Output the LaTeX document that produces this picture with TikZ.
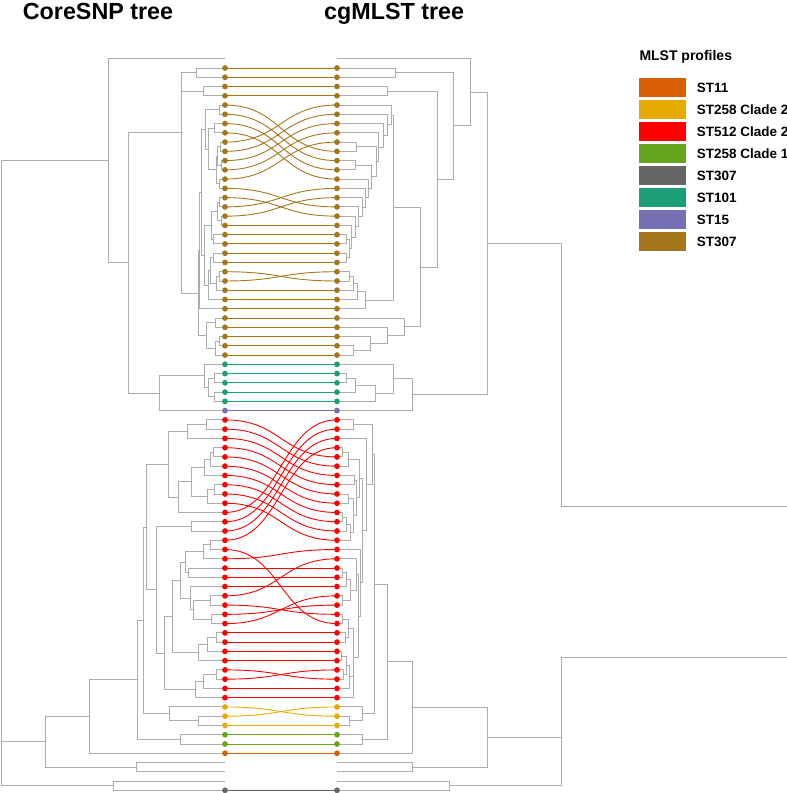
\documentclass[tikz,border=0pt]{standalone}
\usepackage{fontspec}
\setmainfont{Liberation Sans}
\definecolor{brn}{HTML}{A6761D}
\definecolor{tea}{HTML}{1B9E77}
\definecolor{pur}{HTML}{7570B3}
\definecolor{rd}{HTML}{FF0000}
\definecolor{yel}{HTML}{E6AB02}
\definecolor{grn}{HTML}{66A61E}
\definecolor{org}{HTML}{D95F02}
\definecolor{gry}{HTML}{666666}
\definecolor{tl}{HTML}{ADADAD}
\pgfdeclarelayer{bg}
\pgfsetlayers{bg,main}
\tikzset{
  treeln/.style={draw=tl, line width=0.9pt},
  conn/.style={line width=0.9pt},
  dot/.style={circle, inner sep=0pt, minimum size=5.8pt, draw=none},
  swatch/.style={rectangle, inner sep=0pt, minimum width=46.7pt, minimum height=19pt, draw=none},
  lgtext/.style={anchor=base west, inner sep=0pt, font=\fontsize{13.5}{16}\selectfont\bfseries},
  ttl/.style={anchor=base west, inner sep=0pt, font=\fontsize{23.3}{27}\selectfont\bfseries}
}
\newcommand\BR[5]{\draw[treeln] (#3,{68+9.26*(#2)}) -- (#1,{68+9.26*(#2)}) -- (#1,{68+9.26*(#4)}) -- (#5,{68+9.26*(#4)});}
\begin{document}
\begin{tikzpicture}[x=1pt,y=-1pt]
\useasboundingbox (0,0) rectangle (787,793);
% titles
\node[ttl] (t1) at (22.7,19) {CoreSNP tree};
\node[ttl] (t2) at (324,19) {cgMLST tree};
% legend
\node[anchor=base west, inner sep=0pt, font=\fontsize{14}{17}\selectfont\bfseries] (lgt) at (639.3,60) {MLST profiles};
\foreach \n/\c/\t in {0/org/ST11, 1/yel/ST258 Clade 2, 2/rd/ST512 Clade 2, 3/grn/ST258 Clade 1, 4/gry/ST307, 5/tea/ST101, 6/pur/ST15, 7/brn/ST307}{
  \node[swatch, fill=\c] (sw\n) at (662.7,{87.8+21.95*\n}) {};
  \node[lgtext] (lg\n) at (696.7,{87.8+21.95*\n+4.8}) {\t};
}
% tip dots
\foreach \i in {0,...,31}{\node[dot,fill=brn] (L\i) at (225,{68+9.26*\i}) {}; \node[dot,fill=brn] (R\i) at (337,{68+9.26*\i}) {};}
\foreach \i in {32,...,36}{\node[dot,fill=tea] (L\i) at (225,{68+9.26*\i}) {}; \node[dot,fill=tea] (R\i) at (337,{68+9.26*\i}) {};}
\foreach \i in {37}{\node[dot,fill=pur] (L\i) at (225,{68+9.26*\i}) {}; \node[dot,fill=pur] (R\i) at (337,{68+9.26*\i}) {};}
\foreach \i in {38,...,68}{\node[dot,fill=rd] (L\i) at (225,{68+9.26*\i}) {}; \node[dot,fill=rd] (R\i) at (337,{68+9.26*\i}) {};}
\foreach \i in {69,70,71}{\node[dot,fill=yel] (L\i) at (225,{68+9.26*\i}) {}; \node[dot,fill=yel] (R\i) at (337,{68+9.26*\i}) {};}
\foreach \i in {72,73}{\node[dot,fill=grn] (L\i) at (225,{68+9.26*\i}) {}; \node[dot,fill=grn] (R\i) at (337,{68+9.26*\i}) {};}
\foreach \i in {74}{\node[dot,fill=org] (L\i) at (225,{68+9.26*\i}) {}; \node[dot,fill=org] (R\i) at (337,{68+9.26*\i}) {};}
\foreach \i in {78}{\node[dot,fill=gry] (L\i) at (225,{68+9.26*\i}) {}; \node[dot,fill=gry] (R\i) at (337,{68+9.26*\i}) {};}
\begin{pgfonlayer}{bg}
% connectors
\foreach \l/\r/\c in {0/0/brn,1/1/brn,2/2/brn,3/3/brn,4/9/brn,5/10/brn,6/11/brn,7/12/brn,8/4/brn,9/5/brn,10/6/brn,11/7/brn,12/8/brn,13/15/brn,14/16/brn,15/13/brn,16/14/brn,17/17/brn,18/18/brn,19/19/brn,20/20/brn,21/21/brn,22/23/brn,23/22/brn,24/24/brn,25/25/brn,26/26/brn,27/27/brn,28/28/brn,29/29/brn,30/30/brn,31/31/brn,
32/32/tea,33/33/tea,34/34/tea,35/35/tea,36/36/tea,37/37/pur,
38/42/rd,39/43/rd,40/44/rd,41/45/rd,42/46/rd,43/47/rd,44/48/rd,45/49/rd,46/50/rd,47/51/rd,48/38/rd,49/39/rd,50/40/rd,51/41/rd,52/60/rd,53/52/rd,54/54/rd,55/55/rd,56/56/rd,57/53/rd,58/59/rd,59/58/rd,60/57/rd,61/61/rd,62/62/rd,63/63/rd,64/64/rd,65/66/rd,66/65/rd,67/67/rd,68/68/rd,
69/70/yel,70/69/yel,71/71/yel,72/72/grn,73/73/grn,74/74/org,78/78/gry}{
  \draw[conn,draw=\c] (L\l.center) .. controls +(56,0) and +(-56,0) .. (R\r.center);
}
% ---------------- left tree ----------------
\BR{196.7}{0}{225}{1}{225}
\BR{203.3}{2}{225}{3}{225}
\BR{219}{4}{225}{5}{225}
\BR{214}{6}{225}{7}{225}
\BR{220}{8}{225}{9}{225}
\BR{221}{10}{225}{11}{225}
\BR{217}{8.5}{220}{10.5}{221}
\BR{219}{12}{225}{13}{225}
\BR{216}{9.5}{217}{12.5}{219}
\BR{208}{6.5}{214}{11}{216}
\BR{205}{4.5}{219}{8.75}{208}
\BR{219}{14}{225}{15}{225}
\BR{221}{16}{225}{17}{225}
\BR{217}{14.5}{219}{16.5}{221}
\BR{213}{18}{225}{19}{225}
\BR{211}{15.5}{217}{18.5}{213}
\BR{213}{20}{225}{21}{225}
\BR{219.3}{22}{225}{23}{225}
\BR{216.7}{22.5}{219.3}{24}{225}
\BR{210}{20.5}{213}{23.25}{216.7}
\BR{208}{21.875}{210}{25}{225}
\BR{204}{17}{211}{23.4375}{208}
\BR{201}{6.625}{205}{20.21875}{204}
\BR{199.5}{13.421875}{201}{26}{225}
\BR{215}{27}{225}{28}{225}
\BR{219.3}{29}{225}{30}{225}
\BR{215}{29.5}{219.3}{31}{225}
\BR{206}{27.5}{215}{30.25}{215}
\BR{198}{19.7109}{199.5}{28.875}{206}
\BR{181}{2.5}{203.3}{24.293}{198}
\BR{181}{0.5}{196.7}{13.3965}{181}
\BR{214.3}{33}{225}{34}{225}
\BR{214.3}{35}{225}{36}{225}
\BR{208.3}{33.5}{214.3}{35.5}{214.3}
\BR{204.3}{32}{225}{34.5}{208.3}
\BR{159.3}{33.25}{204.3}{37}{225}
\BR{128}{6.948}{181}{35.125}{159.3}
\BR{108.5}{-1}{225}{21.0365}{128}
\BR{206.7}{38}{225}{39}{225}
\BR{187.7}{38.5}{206.7}{40}{225}
\BR{213}{41}{225}{42}{225}
\BR{210}{41.5}{213}{43}{225}
\BR{204.3}{42.25}{210}{44}{225}
\BR{214}{45}{225}{46}{225}
\BR{207}{45.5}{214}{47}{225}
\BR{191.7}{43.125}{204.3}{46.25}{207}
\BR{178.3}{44.6875}{191.7}{48}{225}
\BR{168.3}{39.25}{187.7}{46.34375}{178.3}
\BR{191.7}{49}{225}{50}{225}
\BR{210}{51}{225}{52}{225}
\BR{203.3}{51.5}{210}{53}{225}
\BR{188.3}{54}{225}{55}{225}
\BR{185}{52.25}{203.3}{54.5}{188.3}
\BR{210}{57}{225}{58}{225}
\BR{211.7}{59}{225}{60}{225}
\BR{193.3}{57.5}{210}{59.5}{211.7}
\BR{190}{56}{225}{58.5}{193.3}
\BR{180}{53.375}{185}{57.25}{190}
\BR{216.7}{61}{225}{62}{225}
\BR{207.3}{61.5}{216.7}{63}{225}
\BR{198.3}{62.25}{207.3}{64}{225}
\BR{172.7}{55.3125}{180}{63.125}{198.3}
\BR{216.7}{65}{225}{66}{225}
\BR{203.3}{65.5}{216.7}{67}{225}
\BR{195}{66.25}{203.3}{68}{225}
\BR{164.3}{59.21875}{172.7}{67.125}{195}
\BR{156}{49.5}{191.7}{63.171875}{164.3}
\BR{146.7}{42.797}{168.3}{56.3359}{156}
\BR{198.3}{70}{225}{71}{225}
\BR{169.3}{69}{225}{70.5}{198.3}
\BR{143.3}{49.566}{146.7}{69.75}{169.3}
\BR{180}{72}{225}{73}{225}
\BR{137.3}{59.658}{143.3}{72.5}{180}
\BR{89.3}{66.079}{137.3}{74}{225}
\BR{136.7}{75}{225}{76}{225}
\BR{45}{70.04}{89.3}{75.5}{136.7}
\BR{1}{10.018}{108.5}{72.77}{45}
\BR{113.3}{77}{225}{78}{225}
\BR{1}{41.39}{1}{77.5}{113.3}
% ---------------- right tree ----------------
\BR{395}{0}{337}{1}{337}
\BR{387.3}{2}{337}{3}{337}
\BR{346.7}{18}{337}{19}{337}
\BR{346}{20}{337}{21}{337}
\BR{349}{18.5}{346.7}{20.5}{346}
\BR{351}{17}{337}{19.5}{349}
\BR{355}{16}{337}{18.25}{351}
\BR{358}{15}{337}{17.125}{355}
\BR{362}{14}{337}{16.0625}{358}
\BR{365}{13}{337}{15.03}{362}
\BR{368}{12}{337}{14.016}{365}
\BR{355}{10}{337}{11}{337}
\BR{371.7}{10.5}{355}{13.008}{368}
\BR{356.7}{8}{337}{9}{337}
\BR{376.7}{8.5}{356.7}{11.754}{371.7}
\BR{378.5}{7}{337}{10.127}{376.7}
\BR{383.3}{6}{337}{8.563}{378.5}
\BR{387.5}{5}{337}{7.28}{383.3}
\BR{391.7}{4}{337}{6.14}{387.5}
\BR{349}{22}{337}{23}{337}
\BR{353}{22.5}{349}{24}{337}
\BR{357}{23.25}{353}{25}{337}
\BR{365}{24.125}{357}{26}{337}
\BR{393.3}{5.07}{391.7}{25.0625}{365}
\BR{353.3}{30}{337}{31}{337}
\BR{370}{29}{337}{30.5}{353.3}
\BR{387}{28}{337}{29.75}{370}
\BR{404}{27}{337}{28.875}{387}
\BR{420}{15.066}{393.3}{27.9375}{404}
\BR{437.3}{2.5}{387.3}{21.5}{420}
\BR{453.3}{0.5}{395}{12.0}{437.3}
\BR{470}{-1}{337}{6.25}{453.3}
\BR{346.7}{33}{337}{34}{337}
\BR{355}{33.5}{346.7}{35}{337}
\BR{375}{34.25}{355}{36}{337}
\BR{393.3}{32}{337}{35.125}{375}
\BR{412.3}{33.5625}{393.3}{37}{337}
\BR{487.3}{2.625}{470}{35.28}{412.3}
\BR{353.3}{38}{337}{39}{337}
\BR{342.3}{41}{337}{42}{337}
\BR{348.3}{41.5}{342.3}{43}{337}
\BR{354}{44}{337}{45}{337}
\BR{348}{46}{337}{47}{337}
\BR{342.3}{48}{337}{49}{337}
\BR{346.7}{48.5}{342.3}{50}{337}
\BR{350}{49.25}{346.7}{51}{337}
\BR{353}{46.5}{348}{50.125}{350}
\BR{356}{44.5}{354}{48.3125}{353}
\BR{359.3}{42.25}{348.3}{46.406}{356}
\BR{342}{54}{337}{55}{337}
\BR{346}{54.5}{342}{56}{337}
\BR{342}{57}{337}{58}{337}
\BR{350}{55.25}{346}{57.5}{342}
\BR{356.7}{53}{337}{56.375}{350}
\BR{342}{59}{337}{60}{337}
\BR{345}{61}{337}{62}{337}
\BR{348}{59.5}{342}{61.5}{345}
\BR{341}{63}{337}{64}{337}
\BR{343}{65}{337}{66}{337}
\BR{346}{63.5}{341}{65.5}{343}
\BR{349}{64.5}{346}{67}{337}
\BR{353}{65.75}{349}{68}{337}
\BR{353.3}{60.5}{348}{66.875}{353}
\BR{358.3}{54.6875}{356.7}{63.6875}{353.3}
\BR{360}{52}{337}{59.1875}{358.3}
\BR{362.3}{44.328}{359.3}{55.59}{360}
\BR{366}{40}{337}{49.96}{362.3}
\BR{372.3}{38.5}{353.3}{44.98}{366}
\BR{349.3}{70}{337}{71}{337}
\BR{362.7}{69}{337}{70.5}{349.3}
\BR{374.3}{41.74}{372.3}{69.75}{362.7}
\BR{362.3}{72}{337}{73}{337}
\BR{387.3}{55.745}{374.3}{72.5}{362.3}
\BR{412.3}{64.12}{387.3}{74}{337}
\BR{412.3}{75}{337}{76}{337}
\BR{487}{69.06}{412.3}{75.5}{412.3}
\BR{449.3}{77}{337}{78}{337}
\BR{561.7}{72.28}{487}{77.5}{449.3}
\BR{561.7}{18.95}{487.3}{47.3}{787}
\BR{561.7}{63.7}{787}{74.89}{561.7}
\end{pgfonlayer}
\end{tikzpicture}
\end{document}
